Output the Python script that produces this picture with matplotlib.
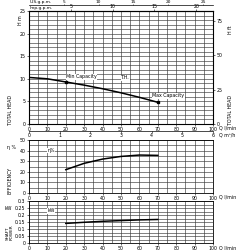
import matplotlib.pyplot as plt
import numpy as np
from matplotlib.ticker import MultipleLocator

# Performance data (Q in l/min)
q_head = [0, 10, 20, 30, 40, 50, 60, 70]
head_m = [10.3, 10.0, 9.3, 8.6, 7.8, 6.9, 5.9, 4.8]
q_min, h_min = 20, 9.3
q_max, h_max = 70, 4.8

q_eff = [20, 30, 40, 50, 60, 70]
eff_pct = [22, 28, 32, 34.5, 35.8, 35.5]

q_pow = [20, 30, 40, 50, 60, 70]
power_kw = [0.14, 0.148, 0.155, 0.16, 0.165, 0.168]

fs = 3.4
grid_c = '#3a3a3a'

fig = plt.figure(figsize=(2.5, 2.5), dpi=100)
ax1 = fig.add_axes([0.116, 0.504, 0.736, 0.452])
ax2 = fig.add_axes([0.116, 0.228, 0.736, 0.212])
ax3 = fig.add_axes([0.116, 0.028, 0.736, 0.168])


def style(ax, ymax, ymaj, ymin):
    ax.set_xlim(0, 100)
    ax.set_ylim(0, ymax)
    ax.xaxis.set_major_locator(MultipleLocator(10))
    ax.xaxis.set_minor_locator(MultipleLocator(5))
    ax.yaxis.set_major_locator(MultipleLocator(ymaj))
    ax.yaxis.set_minor_locator(MultipleLocator(ymin))
    ax.grid(True, which='both', color=grid_c, lw=0.45)
    ax.tick_params(which='both', labelsize=fs, length=1.5, width=0.4, pad=1)
    ax.tick_params(which='minor', length=0)
    for s in ax.spines.values():
        s.set_linewidth(0.6)


# total head
style(ax1, 25, 5, 1)
ax1.plot(q_head, head_m, color='black', lw=1.1)
ax1.plot([q_min, q_max], [h_min, h_max], 's', color='black', ms=1.5)
ax1.text(q_min, h_min + 0.6, 'Min Capacity', fontsize=fs, va='bottom',
         bbox=dict(fc='white', ec='none', pad=0.2))
ax1.text(q_max - 3, h_max + 0.9, 'Max Capacity', fontsize=fs, va='bottom',
         bbox=dict(fc='white', ec='none', pad=0.2))
ax1.text(50, 10.2, 'T.H.', fontsize=fs, va='center',
         bbox=dict(fc='white', ec='none', pad=0.2))

axr = ax1.twinx()
axr.set_ylim(0, 25 * 3.2808)
axr.set_yticks([0, 25, 50, 75])
axr.tick_params(labelsize=fs, length=1.5, width=0.4, pad=1)

imp = ax1.secondary_xaxis('top', functions=(lambda q: q / 4.546, lambda g: g * 4.546))
imp.set_xticks([5, 10, 15, 20])
imp.tick_params(labelsize=fs, length=1.5, width=0.4, pad=0.2)
us = ax1.secondary_xaxis(1.05, functions=(lambda q: q / 3.785, lambda g: g * 3.785))
us.set_xticks([5, 10, 15, 20, 25])
us.tick_params(labelsize=fs * 0.9, length=1.0, width=0.4, pad=0.1)
us.spines['top'].set_linewidth(0.5)

m3h = ax1.secondary_xaxis(-0.062, functions=(lambda q: q * 0.06, lambda m: m / 0.06))
m3h.set_xticks([0, 1, 2, 3, 4, 5, 6])
m3h.tick_params(labelsize=fs, length=1.2, width=0.4, pad=0.3)
m3h.spines['bottom'].set_linewidth(0.5)

# efficiency
style(ax2, 50, 10, 5)
ax2.plot(q_eff, eff_pct, color='black', lw=1.1)
ax2.text(10, 40, 'η%', fontsize=fs, va='center',
         bbox=dict(fc='white', ec='none', pad=0.2))

# power
style(ax3, 0.3, 0.05, 0.025)
ax3.yaxis.set_major_formatter(lambda v, p: '0' if v == 0 else f'{v:g}')
ax3.plot(q_pow, power_kw, color='black', lw=1.1)
ax3.text(10, 0.23, 'kW', fontsize=fs, va='center',
         bbox=dict(fc='white', ec='none', pad=0.2))

# axis captions
fig.text(30 / 250, 1 - 2 / 250, 'U.S.g.p.m.', fontsize=fs * 0.9, va='center')
fig.text(30 / 250, 1 - 7.5 / 250, 'Imp.g.p.m.', fontsize=fs * 0.9, va='center')
for yp in (128, 197, 248):
    fig.text(219 / 250, 1 - yp / 250, 'Q l/min', fontsize=fs, va='center')
fig.text(219 / 250, 1 - 135 / 250, 'Q m³/h', fontsize=fs, va='center')

fig.text(18 / 250, 1 - 20 / 250, 'H m', fontsize=fs, rotation=90, va='center')
fig.text(8 / 250, 1 - 110 / 250, 'TOTAL HEAD', fontsize=fs, rotation=90, va='center')
fig.text(228 / 250, 1 - 30 / 250, 'H ft', fontsize=fs, rotation=90, va='center')
fig.text(228 / 250, 1 - 110 / 250, 'TOTAL HEAD', fontsize=fs, rotation=90, va='center')
fig.text(7 / 250, 1 - 148 / 250, 'η %', fontsize=fs, va='center')
fig.text(8 / 250, 1 - 180 / 250, 'EFFICIENCY', fontsize=fs, rotation=90, va='center')
fig.text(5 / 250, 1 - 208 / 250, 'kW', fontsize=fs, va='center')
fig.text(6 / 250, 1 - 232 / 250, 'SHAFT\nPOWER', fontsize=fs * 0.9, rotation=90,
         va='center', linespacing=1.0)

fig.savefig('out.png', dpi=100)
